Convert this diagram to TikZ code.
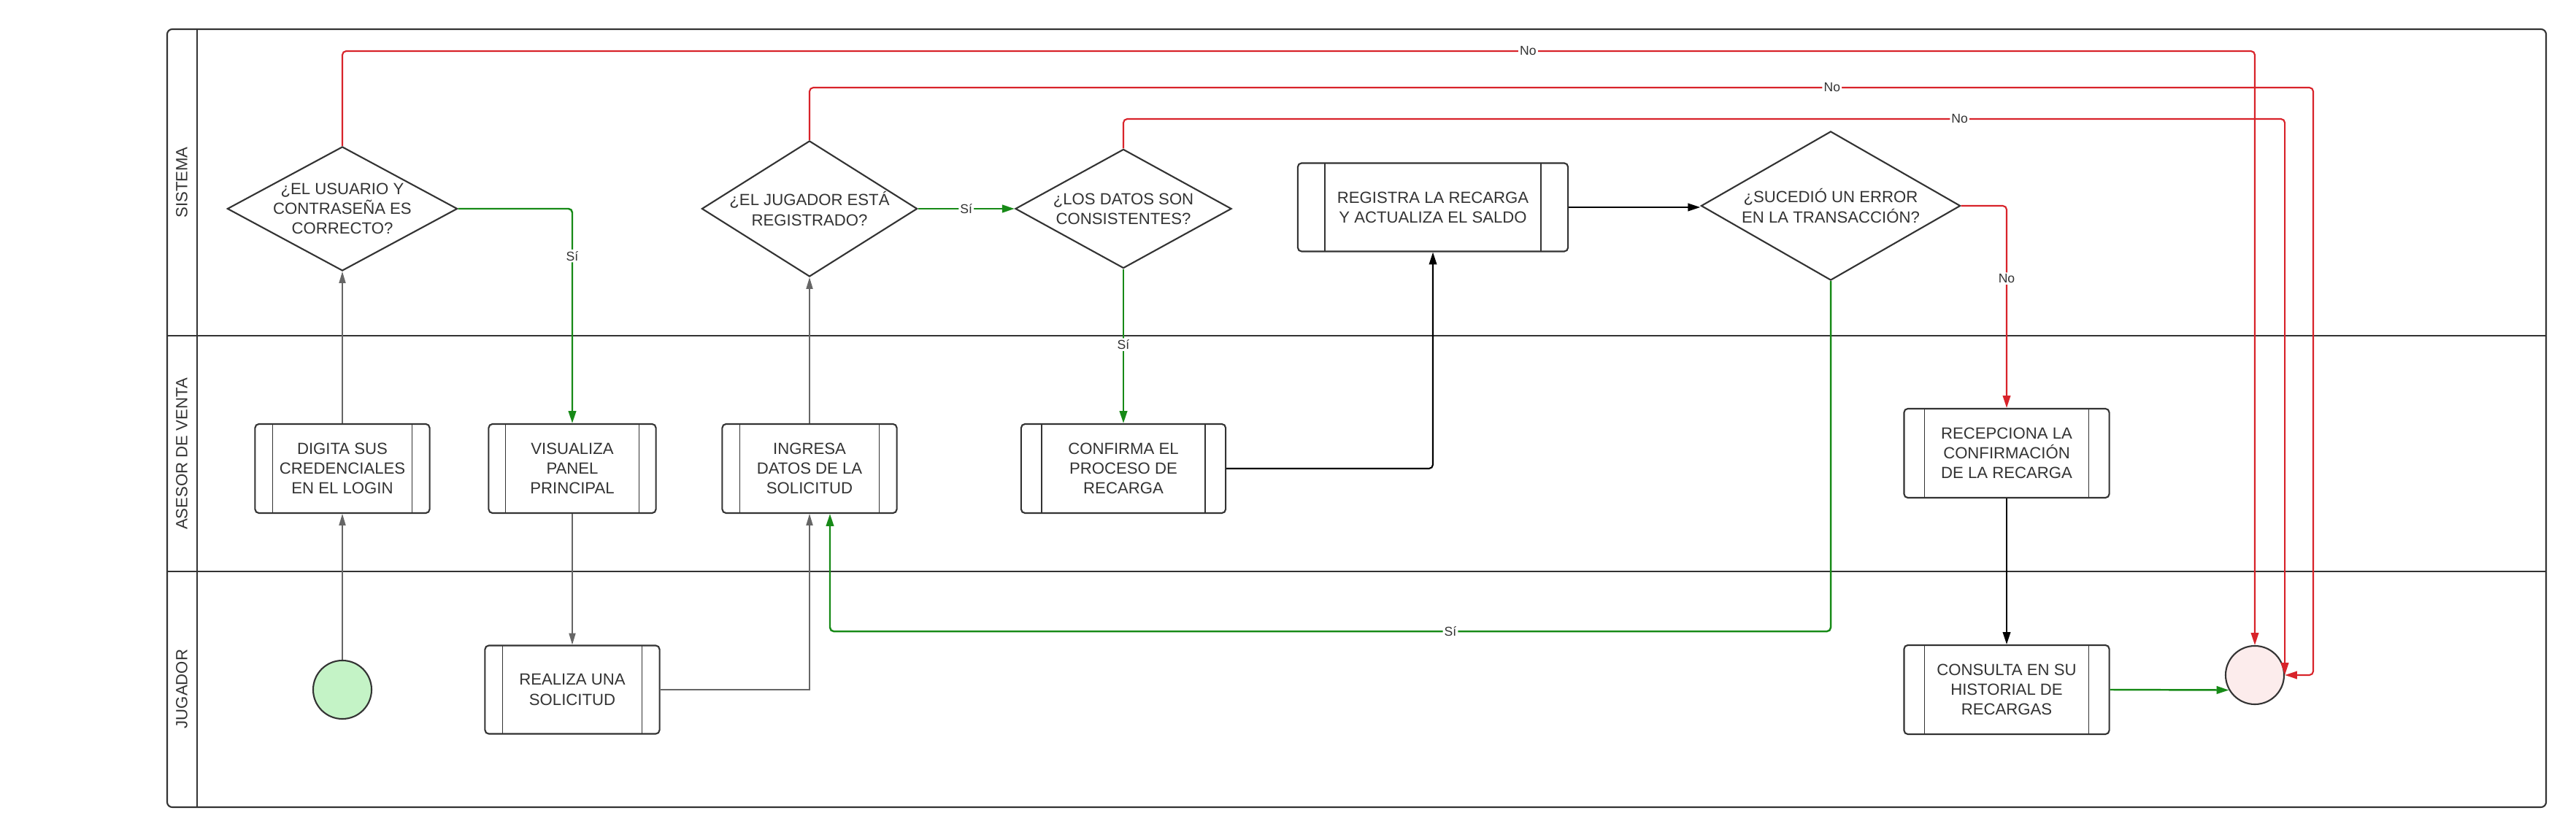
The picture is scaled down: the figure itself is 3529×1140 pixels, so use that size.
\documentclass[tikz,border=0pt]{standalone}
\usepackage{fontspec}
\setmainfont{Liberation Sans}
\usetikzlibrary{shapes.geometric,arrows.meta,calc}
\definecolor{lineRed}{HTML}{D8232A}
\definecolor{lineGreen}{HTML}{178A17}
\definecolor{lineGray}{HTML}{666666}
\definecolor{txtGray}{HTML}{333333}
\definecolor{startFill}{HTML}{C4F3C6}
\definecolor{endFill}{HTML}{FCECEC}
\tikzset{
  proc/.style={rectangle, rounded corners=1.5pt, draw=txtGray, line width=0.6pt, fill=white,
    minimum height=1.22cm, inner sep=0pt, align=center, text=txtGray,
    path picture={\draw[txtGray, line width=0.4pt]
      ($(path picture bounding box.north west)!0.1!(path picture bounding box.north east)$) --
      ($(path picture bounding box.south west)!0.1!(path picture bounding box.south east)$)
      ($(path picture bounding box.north east)!0.1!(path picture bounding box.north west)$) --
      ($(path picture bounding box.south east)!0.1!(path picture bounding box.south west)$);}},
  decision/.style={diamond, draw=txtGray, line width=0.6pt, fill=white, inner sep=-3pt,
    align=center, text=txtGray},
  event/.style={circle, draw=txtGray, line width=0.6pt, minimum size=0.8cm, inner sep=0pt},
  flowGray/.style={draw=lineGray, line width=0.4pt, -{Triangle[length=4.5pt,width=2.6pt]}},
  flowBlack/.style={draw=black, line width=0.6pt, rounded corners=1.5pt, -{Triangle[length=4.8pt,width=3pt]}},
  flowGreen/.style={draw=lineGreen, line width=0.7pt, rounded corners=1.5pt, -{Triangle[length=4.8pt,width=3pt]}},
  flowRed/.style={draw=lineRed, line width=0.6pt, rounded corners=1.5pt, -{Triangle[length=4.8pt,width=3pt]}},
  tag/.style={fill=white, inner sep=0.6pt, font=\fontsize{5}{6}\selectfont, text=txtGray},
  lane/.style={rotate=90, text=txtGray}
}
\begin{document}
\begin{tikzpicture}[x=0.01cm, y=-0.01cm, font=\fontsize{6.3}{7.7}\selectfont]
\useasboundingbox (0,0) rectangle (3529,1140);
% pool and lanes
\draw[txtGray, line width=0.6pt, rounded corners=2pt] (229,40) rectangle (3488,1106);
\draw[txtGray, line width=0.6pt] (270,40) -- (270,1106)
  (229,460) -- (3488,460) (229,783) -- (3488,783);
\node[lane] (laneSis) at (249,250) {SISTEMA};
\node[lane] (laneAse) at (249,622) {ASESOR DE VENTA};
\node[lane] (laneJug) at (249,944) {JUGADOR};

% steps
\node[event, fill=startFill] (inicio) at (469,945) {};
\node[proc, minimum width=2.39cm] (digita) at (469,642) {DIGITA SUS\\CREDENCIALES\\EN EL LOGIN};
\node[decision, minimum width=3.15cm, minimum height=1.70cm, shape aspect=1.85] (usuario) at (469,286) {¿EL USUARIO Y\\CONTRASEÑA ES\\CORRECTO?};
\node[proc, minimum width=2.29cm] (visualiza) at (784,642) {VISUALIZA\\PANEL\\PRINCIPAL};
\node[proc, minimum width=2.39cm, minimum height=1.21cm] (realiza) at (784,945) {REALIZA UNA\\SOLICITUD};
\node[proc, minimum width=2.39cm] (ingresa) at (1109,642) {INGRESA\\DATOS DE LA\\SOLICITUD};
\node[decision, minimum width=2.95cm, minimum height=1.86cm, shape aspect=1.6] (jugador) at (1109,286) {¿EL JUGADOR ESTÁ\\REGISTRADO?};
\node[decision, minimum width=2.96cm, minimum height=1.63cm, shape aspect=1.8] (datos) at (1539,286) {¿LOS DATOS SON\\CONSISTENTES?};
\node[proc, minimum width=2.80cm] (confirma) at (1539,642) {CONFIRMA EL\\PROCESO DE\\RECARGA};
\node[proc, minimum width=3.70cm, minimum height=1.21cm] (registra) at (1963,284) {REGISTRA LA RECARGA\\Y ACTUALIZA EL SALDO};
\node[decision, minimum width=3.55cm, minimum height=2.04cm, shape aspect=1.74] (error) at (2508,282) {¿SUCEDIÓ UN ERROR\\EN LA TRANSACCIÓN?};
\node[proc, minimum width=2.81cm] (recepciona) at (2749,621) {RECEPCIONA LA\\CONFIRMACIÓN\\DE LA RECARGA};
\node[proc, minimum width=2.81cm] (consulta) at (2749,945) {CONSULTA EN SU\\HISTORIAL DE\\RECARGAS};
\node[event, fill=endFill] (fin) at (3089,925) {};

% route corners
\coordinate (noA) at (fin.north |- 0,70);
\coordinate (noB) at (3169,120);
\coordinate (noC) at (fin.east |- 0,163);
\coordinate (ingresaPie) at ($(ingresa.south)+(28,0)$);

% flows
\draw[flowGray] (inicio) -- (digita);
\draw[flowGray] (digita) -- (usuario);
\draw[flowGreen] (usuario.east) -| node[tag, pos=0.61] {Sí} (visualiza.north);
\draw[flowGray] (visualiza) -- (realiza);
\draw[flowGray] (realiza.east) -| (ingresa.south);
\draw[flowGray] (ingresa) -- (jugador);
\draw[flowGreen] (jugador) -- node[tag] {Sí} (datos);
\draw[flowGreen] (datos) -- node[tag, pos=0.49] {Sí} (confirma);
\draw[flowBlack] (confirma.east) -| (registra.south);
\draw[flowBlack] (registra) -- (registra -| error.west);
\draw[flowRed] (error.east) -| node[tag, pos=0.68] {No} (recepciona.north);
\draw[flowBlack] (recepciona) -- (consulta);
\draw[flowGreen] (consulta.east) -- (fin.210);
\draw[flowGreen] (error.south) -- ++(0,480) -| node[tag, pos=0.19] {Sí} (ingresaPie);
\draw[flowRed] (usuario.north) |- node[tag, pos=0.81] {No} (noA) -- (fin.north);
\draw[flowRed] (jugador.north) |- node[tag, pos=0.84] {No} (noB) |- (fin.east);
\draw[flowRed] (datos.north) |- node[tag, pos=0.86] {No} (noC) -- (fin.east);
\end{tikzpicture}
\end{document}
